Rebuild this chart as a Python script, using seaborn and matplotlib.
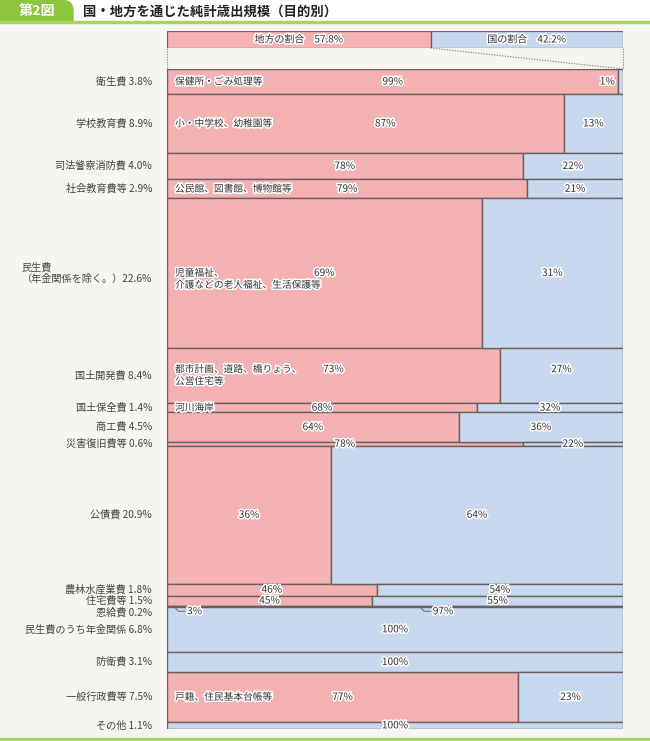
import matplotlib
matplotlib.use("Agg")
import matplotlib.pyplot as plt
import matplotlib.patheffects as pe
from matplotlib.patches import FancyBboxPatch, Rectangle
import seaborn as sns
import numpy as np
import pandas as pd

# ---------------- data ----------------
categories = ["衛生費", "学校教育費", "司法警察消防費", "社会教育費等",
              "民生費\n（年金関係を除く。）", "国土開発費", "国土保全費", "商工費",
              "災害復旧費等", "公債費", "農林水産業費", "住宅費等", "恩給費",
              "民生費のうち年金関係", "防衛費", "一般行政費等", "その他"]
shares = [3.8, 8.9, 4.0, 2.9, 22.6, 8.4, 1.4, 4.5, 0.6, 20.9, 1.8, 1.5, 0.2,
          6.8, 3.1, 7.5, 1.1]
local_pct = [99, 87, 78, 79, 69, 73, 68, 64, 78, 36, 46, 45, 3, 0, 0, 77, 0]
national_pct = [1, 13, 22, 21, 31, 27, 32, 36, 22, 64, 54, 55, 97, 100, 100, 23, 100]
descriptions = ["保健所・ごみ処理等", "小・中学校、幼稚園等", "", "公民館、図書館、博物館等",
                "児童福祉、\n介護などの老人福祉、生活保護等", "都市計画、道路、橋りょう、\n公営住宅等",
                "河川海岸", "", "", "", "", "", "", "", "", "戸籍、住民基本台帳等", ""]
total_labels = ["地方の割合", "国の割合"]
total_values = [57.8, 42.2]

df = pd.DataFrame({"cat": categories, "share": shares, "local": local_pct,
                   "national": national_pct, "desc": descriptions})
df["start"] = df["share"].cumsum() - df["share"]
df["center"] = df["start"] + df["share"] / 2

# ---------------- style ----------------
sns.set_theme(style="white")
plt.rcParams["font.family"] = ["Noto Sans CJK JP", "DejaVu Sans"]

PINK = "#f4b2b3"
BLUE = "#c8d9ef"
EDGE = "#6b5f5f"
BG = "#f6f5f1"
GREEN = "#8cc63e"
GREEN_LINE = "#a8d35f"
TXT = "#333333"
halo = [pe.withStroke(linewidth=2.2, foreground="white")]

W, H = 650, 741
fig = plt.figure(figsize=(W / 100, H / 100), dpi=100, facecolor=BG)

# decoration layer in pixel coordinates
deco = fig.add_axes([0, 0, 1, 1])
deco.set_xlim(0, W)
deco.set_ylim(H, 0)
deco.axis("off")
deco.add_patch(Rectangle((0, 0), W, 22, color="white", zorder=0))
deco.add_patch(FancyBboxPatch((-20, 0.5), 93, 40, boxstyle="round,pad=0,rounding_size=10",
                              color=GREEN, zorder=1, clip_on=True))
deco.add_patch(Rectangle((0, 21), W, 2.2, color=GREEN_LINE, zorder=2))
deco.add_patch(Rectangle((0, 23.2), W, 30, color=BG, zorder=1.5))
deco.add_patch(Rectangle((0, 737.5), W, 2.2, color=GREEN_LINE, zorder=2))
deco.text(37, 11.5, "第2図", color="white", fontsize=10.2, fontweight="bold",
          ha="center", va="center", zorder=3)
deco.text(83, 11.5, "国・地方を通じた純計歳出規模（目的別）", color="#222222", fontsize=9.6,
          fontweight="bold", ha="left", va="center", zorder=3)

X0, X1 = 167, 623
TOP, BOT = 69, 729
LT, LB = 31, 48
split = X0 + (X1 - X0) * total_values[0] / 100
dot = dict(color="#8a8a8a", linestyle=(0, (1.2, 1.2)), linewidth=0.8, zorder=2)
deco.plot([X0, X0], [LB, TOP], **dot)
deco.plot([split, X1], [LB, TOP], **dot)
deco.plot([X1, X1], [LB, TOP], **dot)

# ---------------- legend/total bar ----------------
tax = fig.add_axes([X0 / W, 1 - LB / H, (X1 - X0) / W, (LB - LT) / H])
tax.set_xlim(0, 100)
tax.set_ylim(-0.5, 0.5)
tax.axis("off")
tax.patch.set_alpha(0)
tax.barh([0], [total_values[0]], left=[0], height=1, color=PINK, edgecolor=EDGE, linewidth=0.9)
tax.barh([0], [total_values[1]], left=[total_values[0]], height=1, color=BLUE,
         edgecolor=EDGE, linewidth=0.9)
tax.text(total_values[0] / 2, 0, f"{total_labels[0]}　{total_values[0]}%", ha="center",
         va="center", fontsize=7.2, color=TXT, path_effects=halo)
tax.text(total_values[0] + total_values[1] / 2, 0, f"{total_labels[1]}　{total_values[1]}%",
         ha="center", va="center", fontsize=7.2, color=TXT, path_effects=halo)

# ---------------- main marimekko ----------------
ax = fig.add_axes([X0 / W, 1 - BOT / H, (X1 - X0) / W, (BOT - TOP) / H])
ax.patch.set_alpha(0)
ax.set_xlim(0, 100)
ax.set_ylim(100, 0)
ax.axis("off")

mask_l = df["local"] > 0
ax.barh(df.loc[mask_l, "center"], df.loc[mask_l, "local"], height=df.loc[mask_l, "share"],
        left=0, color=PINK, edgecolor=EDGE, linewidth=1.0)
mask_n = df["national"] > 0
ax.barh(df.loc[mask_n, "center"], df.loc[mask_n, "national"], height=df.loc[mask_n, "share"],
        left=df.loc[mask_n, "local"], color=BLUE, edgecolor=EDGE, linewidth=1.0)

px_per_unit_y = (BOT - TOP) / 100
px_per_unit_x = (X1 - X0) / 100
label_x = -15 / px_per_unit_x
desc_x = 8 / px_per_unit_x
line_h = 12 / px_per_unit_y
pct_kw = dict(fontsize=7.3, color=TXT, va="center", path_effects=halo, zorder=5)

for i, r in df.iterrows():
    yc = r["center"]
    # left category label
    lbl_y = yc + (6 / px_per_unit_y if r["cat"] == "恩給費" else 0)
    sep = "" if "\n" in r["cat"] else " "
    ax.text(label_x, lbl_y, f"{r['cat']}{sep}{r['share']}%", ha="right", va="center",
            multialignment="left", fontsize=7.3, color="#444444", clip_on=False)

    py = yc - (6 / px_per_unit_y if r["cat"] == "国土開発費" else 0)
    if r["desc"]:
        for k, line in enumerate(r["desc"].split("\n")):
            ax.text(desc_x, py + k * line_h, line, ha="left", va="center", fontsize=7,
                    color=TXT, path_effects=halo, zorder=5)

    if r["cat"] == "恩給費":
        ty = yc + 5 / px_per_unit_y
        for sx, val in [(r["local"] / 2, r["local"]),
                        (r["local"] + r["national"] * 0.54, r["national"])]:
            ax.plot([sx, sx + 1.0, sx + 2.5], [yc, ty, ty], color="#666666",
                    linewidth=0.7, zorder=5, clip_on=False)
            ax.text(sx + 2.9, ty, f"{val}%", ha="left", **pct_kw)
        continue

    if r["local"] > 0:
        shift = 20 / px_per_unit_x if r["cat"] == "学校教育費" else 0
        ax.text(r["local"] / 2 + shift, py, f"{r['local']}%", ha="center", **pct_kw)
    if r["national"] > 0:
        if r["national"] < 5:
            ax.text(r["local"] - 0.8, py, f"{r['national']}%", ha="right", **pct_kw)
        else:
            ax.text(r["local"] + r["national"] / 2, py, f"{r['national']}%", ha="center",
                    **pct_kw)

fig.savefig("out.png", dpi=100, facecolor=BG)
